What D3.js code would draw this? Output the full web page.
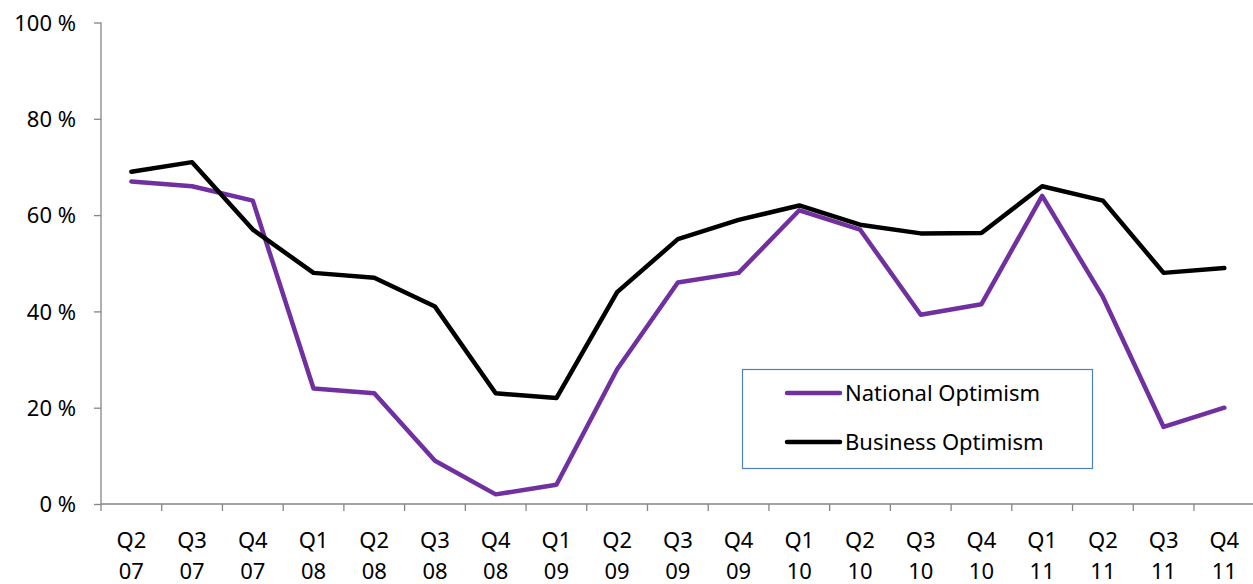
<!DOCTYPE html>
<html><head><meta charset="utf-8">
<script src="https://cdn.jsdelivr.net/npm/d3@7"></script>
<style>body{margin:0;background:#fff}svg{display:block;font-family:"Noto Sans",sans-serif}</style>
</head><body><svg id="c" width="1253" height="584"></svg>
<script>
const quarters = ["Q2","Q3","Q4","Q1","Q2","Q3","Q4","Q1","Q2","Q3","Q4","Q1","Q2","Q3","Q4","Q1","Q2","Q3","Q4"];
const years = ["07","07","07","08","08","08","08","09","09","09","09","10","10","10","10","11","11","11","11"];
const nationalOptimism = [67,66,63,24,23,9,2,4,28,46,48,61,57,39.3,41.5,64,43,16,20];
const businessOptimism = [69,71,57,48,47,41,23,22,44,55,59,62,58,56.2,56.3,66,63,48,49];
const yTicks = [0,20,40,60,80,100];
const seriesNames = ["National Optimism","Business Optimism"];
const colors = ["#7030A0","#000000"];

const svg = d3.select("#c");
const cats = quarters.map((q,i)=>i);
const x = d3.scaleBand().domain(cats).range([101,1254.7]).paddingInner(0).paddingOuter(0);
const y = d3.scaleLinear().domain([0,100]).range([504,22.5]);
const axisColor = "#868686";
const fs = 22;

// Y axis
const ya = svg.append("g").attr("transform","translate(101,0)")
  .call(d3.axisLeft(y).tickValues(yTicks).tickSize(7).tickFormat(d=>d+" %"));
ya.select(".domain").attr("stroke",axisColor).attr("stroke-width",1.3).attr("d","M0,22.5V504");
ya.selectAll(".tick line").attr("stroke",axisColor).attr("stroke-width",1.3);
ya.selectAll(".tick text").attr("font-size",fs).attr("fill","#000").attr("x",-25).attr("dy","0.35em").attr("font-family","Noto Sans");

// X axis
const xa = svg.append("g").attr("transform","translate(0,504)");
xa.append("line").attr("x1",101).attr("x2",1254.7).attr("y1",0).attr("y2",0).attr("stroke",axisColor).attr("stroke-width",1.3);
const edges = cats.map(i=>x(i)).concat([x(cats.length-1)+x.bandwidth()]);
xa.selectAll("line.t").data(edges).join("line").attr("class","t")
  .attr("x1",d=>d).attr("x2",d=>d).attr("y1",0).attr("y2",7).attr("stroke",axisColor).attr("stroke-width",1.3);
const lab = xa.selectAll("text").data(cats).join("text")
  .attr("x",i=>x(i)+x.bandwidth()/2).attr("text-anchor","middle").attr("font-size",fs).attr("fill","#000");
lab.append("tspan").attr("x",i=>x(i)+x.bandwidth()/2).attr("y",44).text(i=>quarters[i]);
lab.append("tspan").attr("x",i=>x(i)+x.bandwidth()/2).attr("y",75).text(i=>years[i]);

// Lines
const line = d3.line().x((d,i)=>x(i)+x.bandwidth()/2).y(d=>y(d));
[nationalOptimism,businessOptimism].forEach((s,k)=>{
  svg.append("path").datum(s).attr("d",line).attr("fill","none").attr("stroke",colors[k])
    .attr("stroke-width",4.5).attr("stroke-linejoin","round").attr("stroke-linecap","round");
});

// Legend
const lg = svg.append("g");
lg.append("rect").attr("x",742.5).attr("y",369.5).attr("width",350).attr("height",99)
  .attr("fill","#fff").attr("stroke","#4F81BD").attr("stroke-width",1.2);
seriesNames.forEach((n,k)=>{
  const yy = 393 + k*49;
  lg.append("line").attr("x1",787).attr("x2",840).attr("y1",yy).attr("y2",yy)
    .attr("stroke",colors[k]).attr("stroke-width",4.5).attr("stroke-linecap","round");
  lg.append("text").attr("x",845).attr("y",yy).attr("dy","0.35em").attr("font-size",fs).attr("fill","#000").text(n);
});
</script></body></html>
